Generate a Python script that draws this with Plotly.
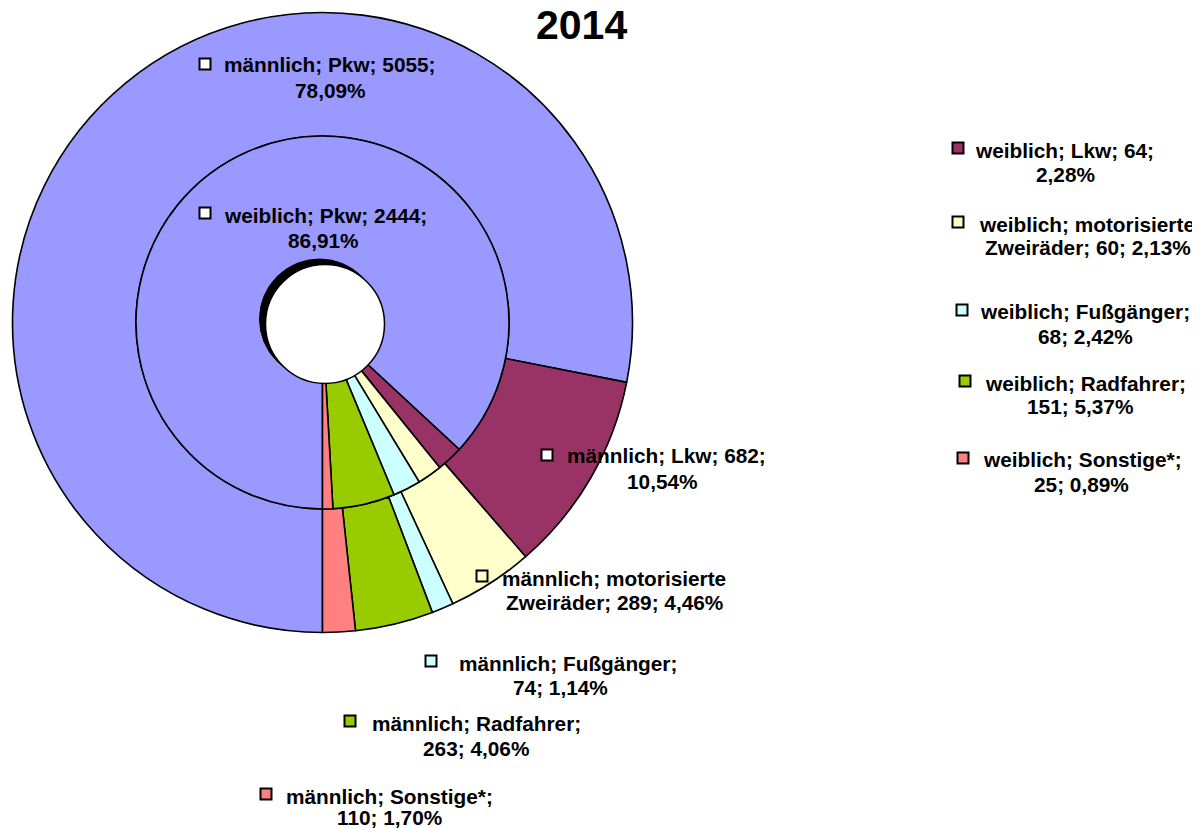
import plotly.graph_objects as go

# ---------------- data ----------------
title_text = "2014"
categories = ["Pkw", "Lkw", "motorisierte Zweiräder", "Fußgänger", "Radfahrer", "Sonstige*"]
male_values = [5055, 682, 289, 74, 263, 110]
female_values = [2444, 64, 60, 68, 151, 25]
colors = ["#9999FF", "#993366", "#FFFFCC", "#CCFFFF", "#99CC00", "#FF8080"]

W, H = 1200, 828
OFF = 8  # page body margin
FONT = "Liberation Sans, Arial, sans-serif"
LABEL_SIZE = 20.8

# geometry (screen pixels)
CX, CY = 322.5, 322.5
R_OUT, R_IN, R_HOLE = 310, 186.5, 60


def px(x):
    return (x - OFF) / W


def py(y):
    return 1 - (y - OFF) / H


def domain(r):
    return dict(x=[px(CX - r), px(CX + r)], y=[py(CY + r), py(CY - r)])


fig = go.Figure()
fig.add_trace(go.Pie(
    values=male_values, labels=categories, sort=False, direction="clockwise",
    rotation=180, hole=R_IN / R_OUT, domain=domain(R_OUT),
    marker=dict(colors=colors, line=dict(color="black", width=1.6)),
    textinfo="none", showlegend=False, name="männlich"))
fig.add_trace(go.Pie(
    values=female_values, labels=categories, sort=False, direction="clockwise",
    rotation=180, hole=(R_HOLE - 2) / R_IN, domain=domain(R_IN),
    marker=dict(colors=colors, line=dict(color="black", width=1.6)),
    textinfo="none", showlegend=False, name="weiblich"))

# ---------------- labels ----------------
def pct(v, vals):
    return f"{v / sum(vals) * 100:.2f}".replace(".", ",") + "%"


# (sex, category index, break word index, line1 center, line2 center, square center, square colour idx / None=white)
label_layout = [
    ("männlich", 0, 3, (330, 65), (330, 90), (205, 64), None),
    ("männlich", 1, 3, (666, 456), (663, 481), (547, 455), None),
    ("männlich", 2, 2, (614, 578), (614, 602), (482, 576), 2),
    ("männlich", 3, 2, (568, 663), (560, 687), (431, 661), 3),
    ("männlich", 4, 2, (476, 723), (476, 748), (350, 721), 4),
    ("männlich", 5, 2, (389, 796), (389, 817), (266, 794), 5),
    ("weiblich", 0, 3, (325, 215), (324, 240), (205, 213), None),
    ("weiblich", 1, 3, (1064, 150), (1065, 174), (958, 148), 1),
    ("weiblich", 2, 2, (1087, 224), (1088, 248), (958, 222), 2),
    ("weiblich", 3, 2, (1085, 311), (1085, 336), (962, 310), 3),
    ("weiblich", 4, 2, (1085, 383), (1080, 407), (965, 381), 4),
    ("weiblich", 5, 2, (1082, 459), (1081, 484), (963, 458), 5),
]

annotations = []
shapes = []
for sex, ci, k, l1, l2, (sx, sy), sc in label_layout:
    vals = male_values if sex == "männlich" else female_values
    full = "; ".join([sex, categories[ci], str(vals[ci]), pct(vals[ci], vals)])
    words = full.split(" ")
    lines = [" ".join(words[:k]), " ".join(words[k:])]
    for line, (tx, ty) in zip(lines, (l1, l2)):
        annotations.append(dict(
            x=px(tx), y=py(ty), xref="paper", yref="paper", xanchor="center", yanchor="middle",
            text=f"<b>{line}</b>", showarrow=False, align="center",
            font=dict(family=FONT, size=LABEL_SIZE, color="black")))
    s = 5.5
    shapes.append(dict(
        type="rect", xref="paper", yref="paper",
        x0=px(sx - s), x1=px(sx + s), y0=py(sy + s), y1=py(sy - s),
        fillcolor="white" if sc is None else colors[sc],
        line=dict(color="black", width=2), layer="above"))

# title
annotations.append(dict(
    x=px(581), y=py(25), xref="paper", yref="paper", xanchor="center", yanchor="middle",
    text=f"<b>{title_text}</b>", showarrow=False,
    font=dict(family=FONT, size=41, color="black")))

# hole with shadow
shapes.insert(0, dict(type="circle", xref="paper", yref="paper",
                      x0=px(319.5 - R_HOLE), x1=px(319.5 + R_HOLE),
                      y0=py(319 + R_HOLE), y1=py(319 - R_HOLE),
                      fillcolor="black", line=dict(color="black", width=1), layer="above"))
shapes.insert(1, dict(type="circle", xref="paper", yref="paper",
                      x0=px(325 - R_HOLE + 0.5), x1=px(325 + R_HOLE - 0.5),
                      y0=py(324 + R_HOLE - 0.5), y1=py(324 - R_HOLE + 0.5),
                      fillcolor="white", line=dict(color="black", width=1.5), layer="above"))

fig.update_layout(
    width=W, height=H, autosize=False,
    margin=dict(l=0, r=0, t=0, b=0),
    paper_bgcolor="white", plot_bgcolor="white",
    annotations=annotations, shapes=shapes, showlegend=False)

fig.write_html("out.html")
